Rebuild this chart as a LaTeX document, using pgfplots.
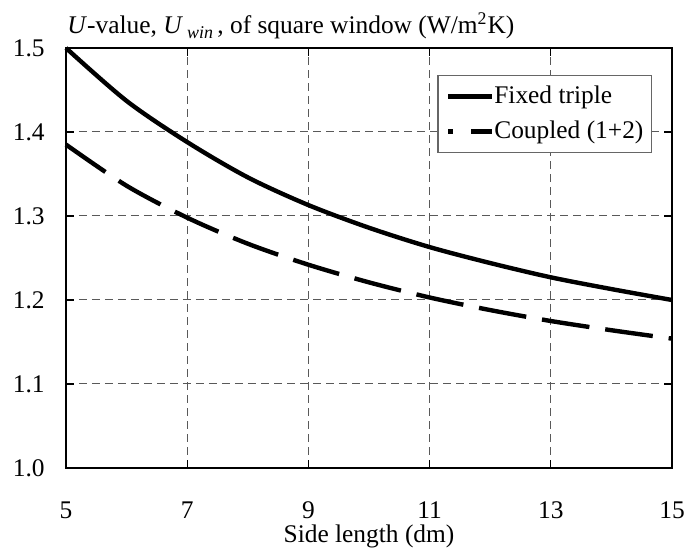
\documentclass[border=0pt]{standalone}
\usepackage{fontspec}
\setmainfont{Liberation Serif}
\usepackage{pgfplots}
\pgfplotsset{compat=1.18}
\begin{document}
\fontsize{12.7bp}{15bp}\selectfont
\begin{tikzpicture}
\path[use as bounding box] (-33bp,-43.5bp) rectangle (309.5bp,234bp);
\begin{axis}[
  at={(0,0)}, anchor=south west,
  scale only axis, width=303bp, height=210bp,
  xmin=5, xmax=15, ymin=1.0, ymax=1.5,
  xtick={5,7,9,11,13,15}, ytick={1,1.1,1.2,1.3,1.4,1.5},
  /pgf/number format/assume math mode=true,
  grid=major,
  major grid style={dash pattern=on 4bp off 2.5bp, line width=0.5bp, black!65},
  tick align=inside, major tick length=4bp,
  tick style={line width=0.6bp, black},
  axis line style={line width=1.4bp},
  xticklabel style={anchor=base, yshift=-25bp, inner sep=0pt},
  yticklabel style={anchor=east, inner sep=0pt, xshift=-10.5bp,
    /pgf/number format/fixed, /pgf/number format/fixed zerofill,
    /pgf/number format/precision=1},
  xlabel={Side length (dm)},
  xlabel style={at={(axis description cs:0.5,0)}, anchor=base, yshift=-37bp, inner sep=0pt},
  clip=false,
  legend style={at={(rel axis cs:0.967,0.936)}, anchor=north east,
    draw=black!60, line width=0.6bp, inner sep=4bp, row sep=4.5bp,
    nodes={inner sep=0pt, text height=10bp, text depth=3bp},
    /tikz/every even column/.append style={column sep=0.5bp}},
  legend cell align=left,
]
\addplot[line width=2.2bp, black, smooth, forget plot] coordinates {
(5,1.500) (6,1.437) (7,1.388) (8,1.346) (9,1.313) (10,1.286)
(11,1.263) (12,1.244) (13,1.227) (14,1.213) (15,1.200)};
\addplot[line width=2.2bp, black, smooth, dash pattern=on 24bp off 8bp, forget plot] coordinates {
(5,1.385) (6,1.336) (7,1.298) (8,1.267) (9,1.242) (10,1.221)
(11,1.203) (12,1.188) (13,1.175) (14,1.164) (15,1.154)};
\addlegendimage{legend image code/.code={\draw[line width=2.2bp] (0bp,0bp) -- (22bp,0bp);}}
\addlegendentry{Fixed triple}
\addlegendimage{legend image code/.code={\draw[line width=2.2bp, dash pattern=on 2.5bp off 9bp on 11bp] (0bp,0bp) -- (22bp,0bp);}}
\addlegendentry{Coupled (1+2)}
\node[anchor=base west, inner sep=0pt] at (rel axis cs:0,1) [xshift=0.5bp, yshift=7.5bp]
  {\textit{U}-value, \textit{U}\,\raisebox{-0.45ex}{\small\textit{win}}\,, of square window (W/m\textsuperscript{2}K)};
\end{axis}
\end{tikzpicture}
\end{document}
